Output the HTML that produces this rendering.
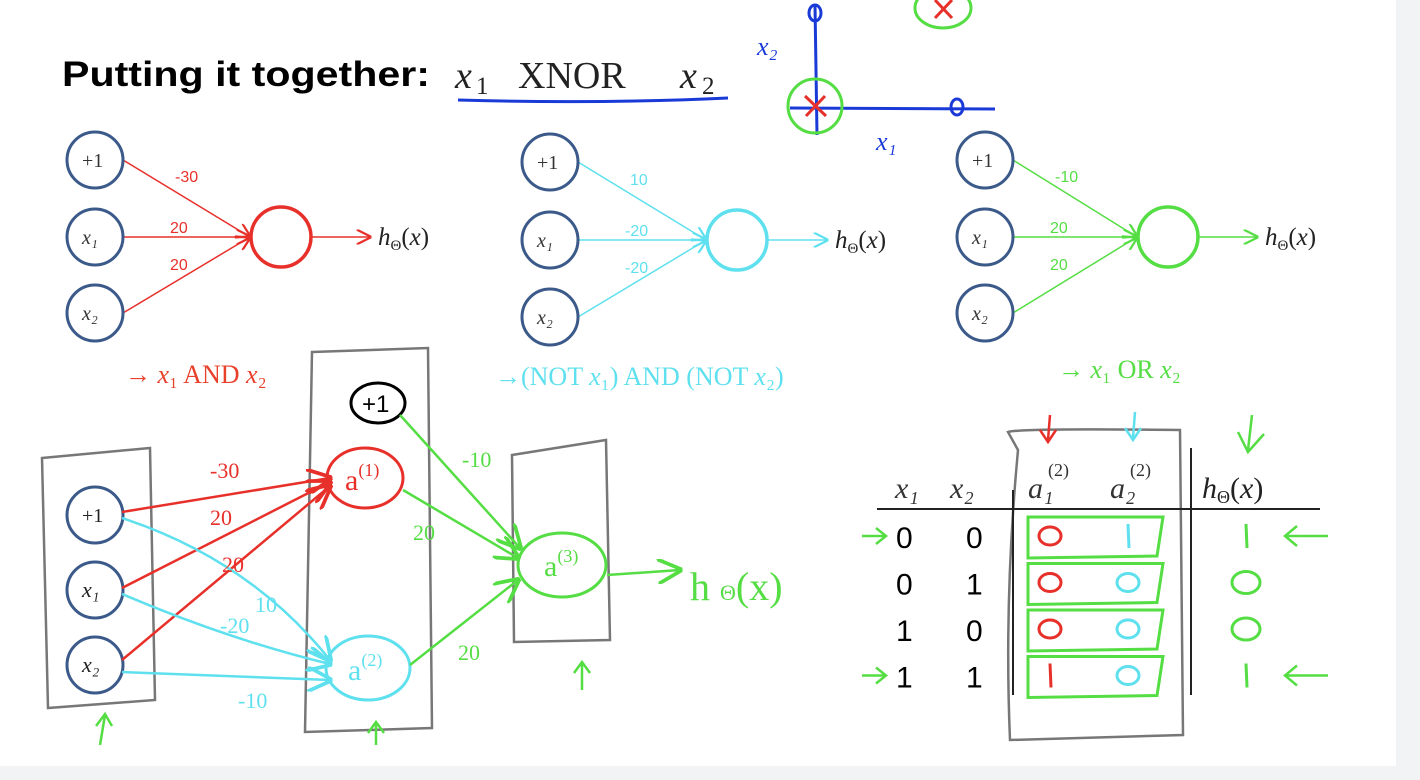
<!DOCTYPE html>
<html><head><meta charset="utf-8"><style>
html,body{margin:0;padding:0;background:#fff;}
svg{display:block;}
text{font-family:"Liberation Serif",serif;}
.sans{font-family:"Liberation Sans",sans-serif;}
</style></head><body>
<svg id="s" width="1420" height="780" viewBox="0 0 1420 780" xmlns="http://www.w3.org/2000/svg">
<defs>
<marker id="ah" markerWidth="10" markerHeight="10" refX="9" refY="5" orient="auto"><path d="M0,0 L10,5 L0,10" fill="none" stroke="context-stroke" stroke-width="1.5"/></marker>
</defs>
<rect x="1396" y="0" width="24" height="780" fill="#f2f3f5"/>
<rect x="0" y="766" width="1420" height="14" fill="#f2f3f5"/>
<text x="62" y="86" class="sans" font-size="35" font-weight="bold" fill="#000" textLength="368" lengthAdjust="spacingAndGlyphs">Putting it together:</text>
<text y="88" font-size="38" fill="#222"><tspan x="455" font-style="italic">x</tspan><tspan x="476" font-size="25" dy="6">1</tspan><tspan x="518" dy="-6">XNOR</tspan><tspan x="680" font-style="italic">x</tspan><tspan x="702" font-size="25" dy="6">2</tspan></text>
<path d="M458,100 Q600,104 728,98" stroke="#1a3ad8" stroke-width="3" fill="none"/>
<g fill="none">
<path d="M815,5 L817,135" stroke="#1a3ad8" stroke-width="3"/>
<path d="M790,108 L995,109" stroke="#1a3ad8" stroke-width="3"/>
<ellipse cx="815" cy="13" rx="6" ry="8" stroke="#1a3ad8" stroke-width="3"/>
<ellipse cx="957" cy="107" rx="6" ry="8" stroke="#1a3ad8" stroke-width="3"/>
<circle cx="815" cy="106" r="27" stroke="#55dd44" stroke-width="3"/>
<path d="M805,96 L826,116 M825,96 L806,116" stroke="#e8302a" stroke-width="3"/>
<ellipse cx="943" cy="8" rx="28" ry="20" stroke="#55dd44" stroke-width="3"/>
<path d="M935,0 L952,18 M952,0 L935,18" stroke="#e8302a" stroke-width="3"/>
<text x="757" y="55" font-size="26" fill="#1a3ad8" stroke="none" font-style="italic">x₂</text>
<text x="876" y="150" font-size="26" fill="#1a3ad8" stroke="none" font-style="italic">x₁</text>
</g>
<g id="nets"></g>
<text x="125" y="383" font-size="26" fill="#e8402a">→ <tspan font-style="italic">x</tspan>₁ AND <tspan font-style="italic">x</tspan>₂</text>
<text x="495" y="385" font-size="26" fill="#5ee0ee">→(NOT <tspan font-style="italic">x</tspan>₁) AND (NOT <tspan font-style="italic">x</tspan>₂)</text>
<text x="1058" y="378" font-size="26" fill="#55dd44">→ <tspan font-style="italic">x</tspan>₁ OR <tspan font-style="italic">x</tspan>₂</text>

<g fill="none">
<path d="M42,458 L150,448 L155,700 L48,708 Z" stroke="#777" stroke-width="2.5"/>
<path d="M312,352 L428,348 L432,728 L305,732 Z" stroke="#777" stroke-width="2.5"/>
<path d="M512,455 L606,440 L610,640 L514,642 Z" stroke="#777" stroke-width="2.5"/>
<g stroke="#3b5a8a" stroke-width="3">
<circle cx="95" cy="515" r="28"/><circle cx="95" cy="590" r="28"/><circle cx="95" cy="665" r="28"/>
</g>
<text x="82" y="522" font-size="20" fill="#222" stroke="none">+1</text>
<text x="82" y="597" font-size="22" fill="#222" stroke="none" font-style="italic">x₁</text>
<text x="82" y="672" font-size="22" fill="#222" stroke="none" font-style="italic">x₂</text>
<ellipse cx="378" cy="403" rx="27" ry="20" stroke="#000" stroke-width="3"/>
<text x="362" y="412" font-size="24" fill="#000" stroke="none" class="sans">+1</text>
<ellipse cx="365" cy="478" rx="38" ry="30" stroke="#e8302a" stroke-width="3"/>
<text x="345" y="490" font-size="30" fill="#e8302a" stroke="none">a<tspan font-size="18" dy="-14">(1)</tspan></text>
<ellipse cx="368" cy="668" rx="42" ry="32" stroke="#5ee0ee" stroke-width="3"/>
<text x="348" y="680" font-size="30" fill="#5ee0ee" stroke="none">a<tspan font-size="18" dy="-14">(2)</tspan></text>
<ellipse cx="562" cy="565" rx="44" ry="32" stroke="#55dd44" stroke-width="3"/>
<text x="544" y="576" font-size="30" fill="#55dd44" stroke="none">a<tspan font-size="18" dy="-14">(3)</tspan></text>
<g stroke="#e8302a" stroke-width="2.5" marker-end="url(#ah)">
<path d="M122,512 L330,478"/><path d="M122,588 L330,482"/><path d="M122,660 L330,486"/>
</g>
<g stroke="#5ee0ee" stroke-width="2.5" marker-end="url(#ah)">
<path d="M122,518 Q250,560 330,660"/><path d="M122,594 Q230,640 330,664"/><path d="M122,672 L330,680"/>
</g>
<g stroke="#55dd44" stroke-width="2.5" marker-end="url(#ah)">
<path d="M400,415 L520,548"/><path d="M403,490 L518,558"/><path d="M410,665 L518,580"/>
<path d="M607,575 L680,570"/>
</g>
<g fill="#e8302a" stroke="none" font-size="22" class="sans">
<text x="210" y="478">-30</text><text x="210" y="525">20</text><text x="222" y="572">20</text></g>
<g fill="#5ee0ee" stroke="none" font-size="22" class="sans">
<text x="255" y="612">10</text><text x="220" y="633">-20</text><text x="238" y="708">-10</text></g>
<g fill="#55dd44" stroke="none" font-size="22" class="sans">
<text x="462" y="467">-10</text><text x="413" y="540">20</text><text x="458" y="660">20</text></g>
<text x="690" y="600" font-size="40" fill="#55dd44" stroke="none">h <tspan font-size="22">Θ</tspan>(x)</text>
<g stroke="#55dd44" stroke-width="2.5">
<path d="M100,745 L105,715 M96,726 L105,714 L112,726"/>
<path d="M376,745 L376,722 M368,733 L376,722 L384,733"/>
<path d="M582,690 L582,662 M574,673 L582,662 L590,673"/>
</g>
</g>

<g id="table"></g>
<script>
const NS="http://www.w3.org/2000/svg";
const x1Vals=[0,0,1,1];
const x2Vals=[0,1,0,1];
const a1Vals=[0,0,0,1];
const a2Vals=[1,0,0,0];
const hVals=[1,0,0,1];
const andWeights=["-30","20","20"];
const norWeights=["10","-20","-20"];
const orWeights=["-10","20","20"];
function el(tag,attrs,parent,txt){const e=document.createElementNS(NS,tag);for(const k in attrs)e.setAttribute(k,attrs[k]);if(txt!==undefined)e.textContent=txt;parent.appendChild(e);return e;}
function hLabel(parent,x,y,size){
 const tx=el('text',{x:x,y:y,'font-size':size,fill:'#222'},parent);
 el('tspan',{'font-style':'italic'},tx,'h');
 el('tspan',{'font-size':Math.round(size*0.6),dy:5},tx,'Θ');
 el('tspan',{dy:-5},tx,'(');
 el('tspan',{'font-style':'italic'},tx,'x');
 el('tspan',{},tx,')');
 return tx;
}
const nets=document.getElementById('nets');
const netDefs=[{x:95,ys:[160,237,313],out:281,col:'#e8302a',w:andWeights,h:378,wx:170},
{x:550,ys:[162,240,317],out:737,col:'#5ee0ee',w:norWeights,h:835,wx:625},
{x:985,ys:[160,237,313],out:1168,col:'#55dd44',w:orWeights,h:1265,wx:1050}];
const labs=["+1","x₁","x₂"];
netDefs.forEach((n,i)=>{
 const g=el('g',{},nets);
 
 
 const cy=n.ys[1];
 n.ys.forEach((y,j)=>{
  el('line',{x1:n.x+28,y1:y,x2:n.out-31,y2:cy,stroke:n.col,'stroke-width':1.5,'marker-end':'url(#ah)'},g);
  el('circle',{cx:n.x,cy:y,r:28,fill:'none',stroke:'#3b5a8a','stroke-width':3},g);
  el('text',{x:n.x-13,y:y+7,'font-size':20,fill:'#333','font-style':j?'italic':'normal'},g,labs[j]);
  const wy=[cy-55,cy-4,cy+33][j];
  el('text',{x:n.wx+(j==0?5:0),y:wy,'font-size':16,fill:n.col,class:'sans'},g,n.w[j]);
 });
 el('circle',{cx:n.out,cy:cy,r:30,fill:'none',stroke:n.col,'stroke-width':3.5},g);
 el('line',{x1:n.out+30,y1:cy,x2:n.h-8,y2:cy,stroke:n.col,'stroke-width':1.5,'marker-end':'url(#ah)'},g);
 const hl=hLabel(g,n.h,cy+8,25);
 
 
});
const t=document.getElementById('table');
el('path',{d:'M1008,432 Q1020,428 1180,430 L1183,735 L1010,740 Q1004,600 1018,450 Z',fill:'none',stroke:'#777','stroke-width':2.5},t);
el('text',{x:895,y:498,'font-size':30,fill:'#333','font-style':'italic'},t,'x₁');
el('text',{x:950,y:498,'font-size':30,fill:'#333','font-style':'italic'},t,'x₂');
el('text',{x:1028,y:498,'font-size':30,fill:'#333','font-style':'italic'},t,'a₁');
el('text',{x:1048,y:476,'font-size':18,fill:'#333'},t,'(2)');
el('text',{x:1110,y:498,'font-size':30,fill:'#333','font-style':'italic'},t,'a₂');
el('text',{x:1130,y:476,'font-size':18,fill:'#333'},t,'(2)');
hLabel(t,1202,498,30);
el('line',{x1:877,y1:509,x2:1320,y2:509,stroke:'#222','stroke-width':2},t);
el('line',{x1:1013,y1:490,x2:1013,y2:695,stroke:'#222','stroke-width':2},t);
el('line',{x1:1191,y1:448,x2:1191,y2:695,stroke:'#222','stroke-width':2},t);
const rowY=r=>536+r*46.5;
function mark(x,y,v,col,big){ if(v){el('line',{x1:x,y1:y-12,x2:x+1,y2:y+12,stroke:col,'stroke-width':3},t);} else {el('ellipse',{cx:x,cy:y,rx:big?14:11,ry:big?11:9,fill:'none',stroke:col,'stroke-width':3},t);} }
x1Vals.forEach((v,r)=>{
 const y=rowY(r);
 el('text',{x:896,y:y+12,'font-size':30,fill:'#000',class:'sans'},t,String(v));
 el('text',{x:966,y:y+12,'font-size':30,fill:'#000',class:'sans'},t,String(x2Vals[r]));
 el('path',{d:`M1028,${y-19} L1163,${y-19} L1157,${y+20} L1028,${y+22} Z`,fill:'none',stroke:'#55dd44','stroke-width':3},t);
 mark(1050,y,a1Vals[r],'#e8302a');
 mark(1128,y,a2Vals[r],'#5ee0ee');
 mark(1246,y,hVals[r],'#55dd44',true);
});
[0,3].forEach(r=>{const y=rowY(r);
 el('path',{d:`M862,${y} L885,${y} M876,${y-8} L886,${y} L876,${y+8}`,fill:'none',stroke:'#55dd44','stroke-width':2.5},t);
 el('path',{d:`M1328,${y} L1285,${y} M1297,${y-10} L1285,${y} L1297,${y+10}`,fill:'none',stroke:'#55dd44','stroke-width':2.5},t);});
el('path',{d:'M1050,415 L1048,440 M1040,430 L1048,442 L1056,430',fill:'none',stroke:'#e8302a','stroke-width':2.5},t);
el('path',{d:'M1135,412 L1133,438 M1125,428 L1133,440 L1141,428',fill:'none',stroke:'#5ee0ee','stroke-width':2.5},t);
el('path',{d:'M1252,415 L1248,450 M1238,432 L1248,452 L1264,434',fill:'none',stroke:'#55dd44','stroke-width':2.5},t);
</script>
</svg>
</body></html>
